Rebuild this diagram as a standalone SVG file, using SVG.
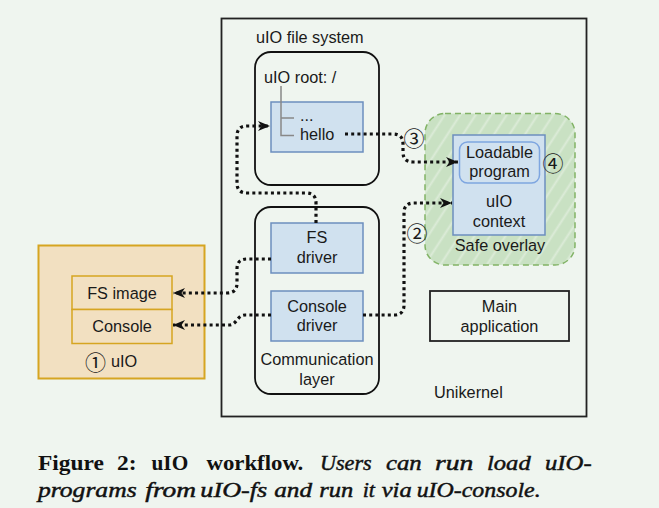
<svg xmlns="http://www.w3.org/2000/svg" width="659" height="508" viewBox="0 0 659 508">
<defs>
<style>
.t{font-family:"Liberation Sans",Arial,sans-serif;font-size:16.3px;fill:#1a1a1a}
.c{text-anchor:middle}
.num{font-family:"Noto Sans CJK SC","DejaVu Sans",sans-serif;font-size:21px;fill:#1a1a1a}
.blue{fill:#d0e1ef;stroke:#6c8ebf;stroke-width:1.5}
.round{fill:none;stroke:#111;stroke-width:1.8}
.conn{fill:none;stroke:#111;stroke-width:3.2;stroke-dasharray:3 3.2}
.cap{font-family:"Liberation Serif","Times New Roman",serif;font-size:21px;fill:#111}
.b{font-weight:bold}
.i{font-style:italic;stroke:#111;stroke-width:0.45}
</style>
<marker id="arr" markerUnits="userSpaceOnUse" markerWidth="14" markerHeight="12" refX="12" refY="6" orient="auto">
<path d="M0,1 L12,6 L0,11 L3.5,6 Z" fill="#111"/>
</marker>
<pattern id="hatch" width="13" height="13" patternUnits="userSpaceOnUse" patternTransform="rotate(33)">
<rect width="13" height="13" fill="#c9e1c3"/>
<line x1="6.5" y1="0" x2="6.5" y2="13" stroke="#dcebd8" stroke-width="2"/>
</pattern>
</defs>
<rect width="659" height="508" fill="#eff5ef"/>

<g id="unikernel">
<rect x="221.5" y="18.5" width="365" height="398" fill="none" stroke="#222" stroke-width="1.8"/>
<text class="t" x="434" y="398">Unikernel</text>
</g>

<g id="filesystem">
<text class="t" x="256" y="43">uIO file system</text>
<rect class="round" x="255" y="52" width="124" height="133" rx="16"/>
<text class="t" x="264" y="83">uIO root: /</text>
</g>

<g id="fsentry">
<rect class="blue" x="271" y="102" width="92" height="50"/>
<path d="M281,86 V135.5 H294 M281,118 H294" fill="none" stroke="#888" stroke-width="1.5"/>
<text class="t" x="300" y="121">...</text>
<text class="t" x="300" y="140">hello</text>
</g>

<g id="commlayer">
<rect class="round" x="255" y="207" width="124" height="187" rx="16"/>
<text class="t c" x="317" y="365">Communication</text>
<text class="t c" x="317" y="385">layer</text>
</g>

<g id="fsdriver">
<rect class="blue" x="271" y="223" width="92" height="50"/>
<text class="t c" x="317" y="243">FS</text>
<text class="t c" x="317" y="263">driver</text>
</g>

<g id="consoledriver">
<rect class="blue" x="271" y="291" width="92" height="50"/>
<text class="t c" x="317" y="312">Console</text>
<text class="t c" x="317" y="331">driver</text>
</g>

<g id="overlay">
<rect x="425" y="113.5" width="150" height="151.5" rx="20" fill="url(#hatch)" stroke="#82b366" stroke-width="1.5" stroke-dasharray="6 4"/>
<text class="t c" x="500" y="251">Safe overlay</text>
</g>

<g id="context">
<rect class="blue" x="453" y="135" width="92" height="100"/>
<text class="t c" x="499" y="207">uIO</text>
<text class="t c" x="499" y="227">context</text>
</g>

<g id="loadable">
<rect x="459.5" y="142" width="80" height="41" rx="8" fill="#d0e1ef" stroke="#7ea6e0" stroke-width="1.5"/>
<text class="t c" x="499.5" y="158">Loadable</text>
<text class="t c" x="499.5" y="177">program</text>
</g>

<g id="mainapp">
<rect x="430" y="291" width="139" height="50" fill="none" stroke="#222" stroke-width="1.8"/>
<text class="t c" x="499.5" y="312">Main</text>
<text class="t c" x="499.5" y="332">application</text>
</g>

<g id="uio">
<rect x="38.5" y="245.5" width="166" height="133" fill="#f2e0c1" stroke="#d6a521" stroke-width="2"/>
<rect x="72" y="276" width="100" height="33.5" fill="#f2e0c1" stroke="#d6a521" stroke-width="1.5"/>
<text class="t c" x="122" y="298.5">FS image</text>
<rect x="72" y="309.5" width="100" height="34" fill="#f2e0c1" stroke="#d6a521" stroke-width="1.5"/>
<text class="t c" x="122" y="332">Console</text>
<text class="num" x="85" y="369.5">①</text>
<text class="t" x="111" y="367">uIO</text>
</g>

<g id="connectors">
<path class="conn" marker-end="url(#arr)" d="M316,223 L316,203 Q316,193 306,193 L247,193 Q237,193 237,183 L237,136 Q237,126 247,126 L270,126"/>
<path class="conn" marker-end="url(#arr)" d="M345,134 L393,134 Q403,134 403,144 L403,152 Q403,162 413,162 L458,162"/>
<path class="conn" marker-end="url(#arr)" d="M363,315 L394,315 Q404,315 404,305 L404,213 Q404,203 414,203 L452,203"/>
<path class="conn" marker-end="url(#arr)" d="M271,259 L247,259 Q237,259 237,269 L237,283 Q237,293 227,293 L173,293"/>
<path class="conn" marker-end="url(#arr)" d="M271,315 L245,315 C237,315 237,325 229,325 L173,325"/>
<text class="num" x="403.5" y="145.5">③</text>
<text class="num" x="406.5" y="240.5">②</text>
<text class="num" x="542.5" y="170.5">④</text>
</g>

<g id="caption" class="cap">
<text class="b" x="38" y="470" textLength="66" lengthAdjust="spacingAndGlyphs">Figure</text>
<text class="b" x="117" y="470" textLength="19.6" lengthAdjust="spacingAndGlyphs">2:</text>
<text class="b" x="151.5" y="470" textLength="36.7" lengthAdjust="spacingAndGlyphs">uIO</text>
<text class="b" x="206.5" y="470" textLength="96.8" lengthAdjust="spacingAndGlyphs">workflow.</text>
<text class="i" x="320" y="470" textLength="51.7" lengthAdjust="spacingAndGlyphs">Users</text>
<text class="i" x="386" y="470" textLength="35.7" lengthAdjust="spacingAndGlyphs">can</text>
<text class="i" x="435" y="470" textLength="38.3" lengthAdjust="spacingAndGlyphs">run</text>
<text class="i" x="487" y="470" textLength="43.7" lengthAdjust="spacingAndGlyphs">load</text>
<text class="i" x="545" y="470" textLength="46.7" lengthAdjust="spacingAndGlyphs">uIO-</text>
<text class="i" x="38" y="497" textLength="98.6" lengthAdjust="spacingAndGlyphs">programs</text>
<text class="i" x="145.3" y="497" textLength="50.8" lengthAdjust="spacingAndGlyphs">from</text>
<text class="i" x="200.3" y="497" textLength="67" lengthAdjust="spacingAndGlyphs">uIO-fs</text>
<text class="i" x="274.2" y="497" textLength="37.8" lengthAdjust="spacingAndGlyphs">and</text>
<text class="i" x="319.3" y="497" textLength="34" lengthAdjust="spacingAndGlyphs">run</text>
<text class="i" x="362.7" y="497" textLength="12.3" lengthAdjust="spacingAndGlyphs">it</text>
<text class="i" x="381.7" y="497" textLength="30" lengthAdjust="spacingAndGlyphs">via</text>
<text class="i" x="416.7" y="497" textLength="124" lengthAdjust="spacingAndGlyphs">uIO-console.</text>
</g>
</svg>
